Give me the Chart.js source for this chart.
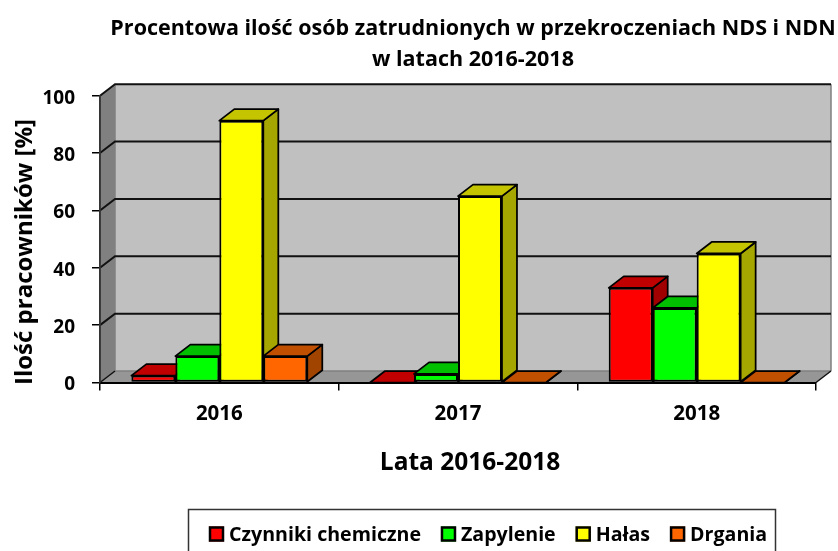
<!DOCTYPE html>
<html>
<head>
<meta charset="utf-8">
<style>html,body{margin:0;padding:0;background:#fff;overflow:hidden}canvas{display:block}</style>
<script src="https://cdn.jsdelivr.net/npm/chart.js@4"></script>
</head>
<body>
<canvas id="c" width="838" height="551"></canvas>
<script>
const categories = ['2016', '2017', '2018'];
const seriesNames = ['Czynniki chemiczne', 'Zapylenie', 'Hałas', 'Drgania'];
const czynnikiChemiczne = [2.4, 0, 33];
const zapylenie = [9.2, 3, 26];
const halas = [91.3, 65, 45];
const drgania = [9.2, 0, 0];
const frontColors = ['#FF0000', '#00FF00', '#FFFF00', '#FF6600'];
const topColors = ['#C00000', '#00C000', '#C4C400', '#C05000'];
const sideColors = ['#A00000', '#00A000', '#A6A600', '#A04400'];
const titleLines = ['Procentowa ilość osób zatrudnionych w przekroczeniach NDS i NDN', 'w latach 2016-2018'];
const xTitle = 'Lata 2016-2018';
const yTitle = 'Ilość pracowników [%]';
const FONT = '"Open Sans"';
const DX = 15, DY = 11.5;

function poly(ctx, pts, fill, stroke, lw) {
  ctx.beginPath();
  pts.forEach((p, i) => i ? ctx.lineTo(p[0], p[1]) : ctx.moveTo(p[0], p[1]));
  ctx.closePath();
  if (fill) { ctx.fillStyle = fill; ctx.fill(); }
  if (stroke) { ctx.strokeStyle = stroke; ctx.lineWidth = lw; ctx.lineJoin = 'round'; ctx.stroke(); }
}

const plugin3d = {
  id: 'plugin3d',
  afterLayout(chart) {
    chart.titleBlock.left += 65;
    chart.titleBlock.right += 65;
  },
  beforeDraw(chart) {
    const ctx = chart.ctx, x = chart.scales.x, y = chart.scales.y;
    const L = x.left, R = x.right, B = y.bottom, T = y.top;
    ctx.save();
    poly(ctx, [[L + DX, T - DY], [R + DX, T - DY], [R + DX, B - DY], [L + DX, B - DY]], '#C0C0C0', null);
    poly(ctx, [[L, T], [L + DX, T - DY], [L + DX, B - DY], [L, B]], '#808080', null);
    poly(ctx, [[L, B], [L + DX, B - DY], [R + DX, B - DY], [R, B]], '#969696', null);
    ctx.strokeStyle = '#808080'; ctx.lineWidth = 1.5;
    ctx.beginPath();
    ctx.moveTo(R + DX, T - DY); ctx.lineTo(R + DX, B - DY);
    ctx.moveTo(L + DX, B - DY); ctx.lineTo(R + DX, B - DY);
    ctx.moveTo(L + DX, T - DY); ctx.lineTo(L + DX, B - DY);
    ctx.stroke();
    y.ticks.forEach(t => {
      const py = y.getPixelForValue(t.value);
      ctx.strokeStyle = '#111'; ctx.lineWidth = 2;
      ctx.beginPath();
      if (t.value > 0) {
        ctx.moveTo(L, py); ctx.lineTo(L + DX, py - DY); ctx.lineTo(R + DX, py - DY);
      } else {
        ctx.lineWidth = 1.5;
        ctx.moveTo(L, py); ctx.lineTo(L + DX, py - DY);
        ctx.moveTo(R, py); ctx.lineTo(R + DX, py - DY);
      }
      ctx.stroke();
    });
    ctx.strokeStyle = '#333'; ctx.lineWidth = 1.5;
    ctx.beginPath(); ctx.moveTo(L, T); ctx.lineTo(L, B); ctx.stroke();
    ctx.restore();
  },
  beforeDatasetsDraw(chart) {
    const ctx = chart.ctx;
    ctx.save();
    chart.data.datasets.forEach((ds, i) => {
      chart.getDatasetMeta(i).data.forEach(el => {
        const l = el.x - el.width / 2, r = el.x + el.width / 2, t = el.y, b = el.base;
        poly(ctx, [[r, t], [r + DX, t - DY], [r + DX, b - DY], [r, b]], sideColors[i], '#000', 1.75);
        poly(ctx, [[l, t], [l + DX, t - DY], [r + DX, t - DY], [r, t]], topColors[i], '#000', 1.75);
      });
    });
    ctx.restore();
  },
  afterDraw(chart) {
    const ctx = chart.ctx;
    ctx.save();
    ctx.fillStyle = '#000';
    ctx.textBaseline = 'middle';
    ctx.textAlign = 'center';
    ctx.font = 'bold 24.5px ' + FONT;
    ctx.fillText(xTitle, 470, 463);
    ctx.save();
    ctx.font = 'bold 24px ' + FONT;
    ctx.translate(25, 252);
    ctx.rotate(-Math.PI / 2);
    ctx.fillText(yTitle, 0, 0);
    ctx.restore();
    // legend
    ctx.strokeStyle = '#333'; ctx.lineWidth = 1.5;
    ctx.strokeRect(188.5, 509.5, 587, 46);
    ctx.textAlign = 'left';
    ctx.font = 'bold 19.6px ' + FONT;
    let px = 209;
    seriesNames.forEach((name, i) => {
      ctx.fillStyle = frontColors[i];
      ctx.fillRect(px, 526.5, 15, 15);
      ctx.strokeStyle = '#000'; ctx.lineWidth = 2.5;
      ctx.strokeRect(px + 1, 527.5, 13, 13);
      ctx.fillStyle = '#000';
      ctx.fillText(name, px + 20, 535);
      px += 20 + ctx.measureText(name).width + 20;
    });
    ctx.restore();
  }
};

new Chart(document.getElementById('c'), {
  type: 'bar',
  data: {
    labels: categories,
    datasets: [czynnikiChemiczne, zapylenie, halas, drgania].map((d, i) => ({
      label: seriesNames[i],
      data: d,
      backgroundColor: frontColors[i],
      borderColor: '#000',
      borderWidth: 2,
      borderSkipped: false,
      barPercentage: 1,
      categoryPercentage: 0.737
    }))
  },
  options: {
    responsive: false,
    animation: false,
    events: [],
    layout: { padding: { left: 0, right: 22, top: 0, bottom: 0 } },
    plugins: {
      legend: { display: false },
      tooltip: { enabled: false },
      title: {
        display: true,
        text: titleLines,
        color: '#000',
        font: { family: FONT, weight: 'bold', size: 21.5, lineHeight: 1.45 },
        padding: { top: 13, bottom: 20.35 }
      }
    },
    scales: {
      x: {
        afterFit(s) { s.height = 168.5; },
        grid: { offset: true, drawOnChartArea: false, color: '#000', tickLength: 8, lineWidth: 1.5 },
        border: { color: '#000', width: 2 },
        ticks: { color: '#000', padding: 11.5, font: { family: FONT, weight: 'bold', size: 20.5 }, maxRotation: 0 }
      },
      y: {
        min: 0, max: 100,
        afterFit(s) { s.width = 100; },
        grid: { drawOnChartArea: false, color: '#000', tickLength: 8, lineWidth: 1.5 },
        border: { color: '#333', width: 1.5 },
        ticks: { stepSize: 20, color: '#000', padding: 17, labelOffset: 2.5, font: { family: FONT, weight: 'bold', size: 19 } }
      }
    }
  },
  plugins: [plugin3d]
});
</script>
</body>
</html>
